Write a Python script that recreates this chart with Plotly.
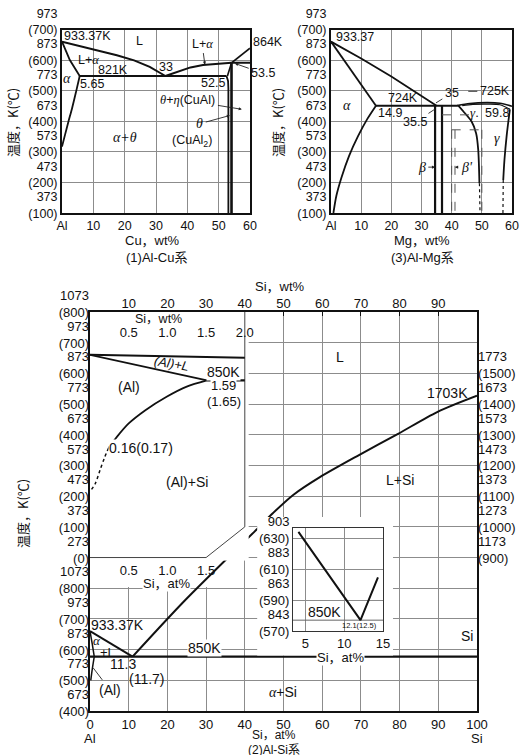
import plotly.graph_objects as go

W, H = 529, 755
SANS = "Liberation Sans, Arial, Noto Sans CJK JP, sans-serif"
SERIF = "Liberation Serif, Times New Roman, serif"
CJK = "Noto Sans CJK JP, Liberation Sans, sans-serif"
INK = "#111111"
GRID = "#8c8c8c"

# ================= (1) Al-Cu =================
cu_wt_ticks = [0, 10, 20, 30, 40, 50, 60]
cu_wt_labels = ["Al", "10", "20", "30", "40", "50", "60"]
top_K = [373, 473, 573, 673, 773, 873, 973]
top_C = [100, 200, 300, 400, 500, 600, 700]

cu_liq1_wt = [0, 7, 12, 17.5, 23, 28, 33]
cu_liq1_K = [933.37, 915, 903, 889, 872, 851, 821]
cu_liq2_wt = [33, 37, 41, 45, 50, 54.1]
cu_liq2_K = [821, 836, 849, 857, 862, 864]
cu_liq3_wt = [54.1, 57, 60]
cu_liq3_K = [864, 887, 912]
cu_peri_wt = [54.1, 60]
cu_peri_K = [864, 864]
cu_eut_wt = [5.65, 52.5]
cu_eut_K = [821, 821]
cu_asol_wt = [0, 2.5, 5.65]
cu_asol_K = [933.37, 873, 821]
cu_asolv_wt = [5.65, 4.5, 3.2, 2.0, 1.0, 0]
cu_asolv_K = [821, 770, 715, 670, 630, 590]
cu_thl_wt = [52.5, 53.0, 53.1, 53.1]
cu_thl_K = [821, 805, 780, 373]
cu_thu_wt = [52.8, 54.1]
cu_thu_K = [821, 864]
cu_thr_wt = [54.1, 54.1]
cu_thr_K = [864, 373]

# ================= (3) Al-Mg =================
mg_wt_ticks = [0, 10, 20, 30, 40, 50, 60]
mg_wt_labels = ["Al", "10", "20", "30", "40", "50", "60"]

mg_liq_wt = [0, 10, 20, 30, 35]
mg_liq_K = [933.37, 878, 819, 757, 724]
mg_sol_wt = [0, 7.5, 14.9]
mg_sol_K = [933.37, 826, 724]
mg_solv_wt = [14.9, 12, 9, 6, 3.5, 1.8, 0.8]
mg_solv_K = [724, 680, 625, 560, 490, 430, 373]
mg_eut_wt = [14.9, 42]
mg_eut_K = [724, 724]
mg_b1_wt = [34.5, 34.5]
mg_b2_wt = [36.8, 36.8]
mg_b_K = [724, 373]
mg_gliq_wt = [41.8, 46, 51.7, 56, 60]
mg_gliq_K = [724, 731, 734, 732, 722]
mg_gsol_wt = [43.5, 47, 52, 56, 59.3]
mg_gsol_K = [724, 728, 729, 727, 712]
mg_gl_wt = [42.2, 43.9, 46.6, 48.1, 48.8, 49.2]
mg_gl_K = [724, 705, 672, 634, 580, 470]
mg_gl_dot_wt = [49.2, 49.4]
mg_gl_dot_K = [470, 373]
mg_gr_wt = [59.3, 58.2, 57.5, 57.1]
mg_gr_K = [712, 623, 547, 481]
mg_gr_dot_wt = [57.1, 57.0]
mg_gr_dot_K = [481, 373]
mg_dh1_wt = [36.8, 46.6]
mg_dh1_K = [694, 694]
mg_dh2_wt = [40.0, 50.0]
mg_dh2_K = [645, 645]
mg_dv1_wt = [40.0, 40.0]
mg_dv2_wt = [41.1, 41.1]
mg_dv3_wt = [50.0, 50.0]
mg_dv_K = [645, 373]

# ================= (2) Al-Si =================
si_at_ticks = [0, 10, 20, 30, 40, 50, 60, 70, 80, 90, 100]
si_wt_ticks = [10, 20, 30, 40, 50, 60, 70, 80, 90]
si_grid_K = [673, 773, 873, 973, 1073, 1173, 1273, 1373, 1473, 1573, 1673, 1773, 1873]
si_left_K = [673, 773, 873, 973, 1073]
si_left_C = [400, 500, 600, 700, 800]
si_right_K = [1173, 1273, 1373, 1473, 1573, 1673, 1773]
si_right_C = [900, 1000, 1100, 1200, 1300, 1400, 1500]

si_liqal_at = [0, 11.0]
si_liqal_K = [933.37, 850]
si_liqsi_at = [11.0, 24.5, 43.2, 47.3, 52.5, 59.4, 69.5, 79.6, 89.7, 100]
si_liqsi_K = [850, 1033, 1266, 1318, 1377, 1435, 1507, 1576, 1647, 1700]
si_eut_at = [0, 100]
si_eut_K = [850, 850]
si_alsol_at = [0, 0.6, 1.1]
si_alsol_K = [933.37, 890, 850]
si_alsolv_at = [1.1, 0.6, 0.2]
si_alsolv_K = [850, 810, 773]

# inset 1 : Al-rich corner, Si wt% 0-2.0 (temperatures 273-1073 K)
in1_wt_ticks = [0.5, 1.0, 1.5, 2.0]
in1_wt_labels = ["0.5", "1.0", "1.5", "2.0"]
in1_at_ticks = [0.5, 1.0, 1.5]
in1_at_labels = ["0.5", "1.0", "1.5"]
in1_K = [273, 373, 473, 573, 673, 773, 873, 973, 1073]
in1_C = [0, 100, 200, 300, 400, 500, 600, 700, 800]
in1_liq_wt = [0, 2.0]
in1_liq_K = [933.37, 924]
in1_sol_wt = [0, 1.51]
in1_sol_K = [933.37, 850]
in1_eut_wt = [1.51, 2.0]
in1_eut_K = [850, 850]
in1_solv_wt = [1.51, 1.25, 0.99, 0.72, 0.50, 0.35, 0.24]
in1_solv_K = [850, 830, 797, 754, 710, 667, 630]
in1_solvdot_wt = [0.24, 0.19, 0.13, 0.07, 0.02]
in1_solvdot_K = [630, 600, 558, 515, 495]
in1_frame_wt = [2.0, 2.0, 1.5, 0]
in1_frame_K = [1073, 373, 273, 273]

# inset 2 : eutectic detail, Si at%
in2_at_ticks = [5, 10, 15]
in2_K = [843, 863, 883, 903]
in2_C = [570, 590, 610, 630]
in2_liq_at = [4.1, 12.1, 14.35]
in2_liq_K = [907, 850, 877.6]
in2_eut_at = [3.4, 15.0]
in2_eut_K = [850, 850]

# white masks (main-diagram coordinates) behind the insets' text
maskA_at = [43.2, 78.3, 78.3, 43.2, 43.2]
maskA_K = [854, 854, 1305, 1305, 854]
maskB_at = [1.0, 39.5, 39.5, 1.0, 1.0]
maskB_K = [1077, 1077, 1168, 1168, 1077]


def kc(K, C):
    return [f"{k}<br>({c})" for k, c in zip(K, C)]


def G(s):
    return f"<span style='font-family:Liberation Serif'><i>{s}</i></span>"


traces = []


def line(xs, ys, xa, ya, w=2.0, dash=None, color=INK, shape="linear"):
    traces.append(go.Scatter(x=xs, y=ys, xaxis=xa, yaxis=ya, mode="lines",
                             line=dict(color=color, width=w, dash=dash, shape=shape, smoothing=0.8),
                             hoverinfo="skip", showlegend=False))


def mask(mx, my):
    traces.append(go.Scatter(x=mx, y=my, xaxis="x3", yaxis="y3", mode="lines", fill="toself",
                             fillcolor="white", line=dict(width=0, color="white"),
                             hoverinfo="skip", showlegend=False))


def dummy(xa, ya):
    traces.append(go.Scatter(x=[None], y=[None], xaxis=xa, yaxis=ya, mode="lines",
                             hoverinfo="skip", showlegend=False))


# ---- Al-Cu traces
for xs, ys, w in [(cu_liq1_wt, cu_liq1_K, 2), (cu_liq2_wt, cu_liq2_K, 2), (cu_liq3_wt, cu_liq3_K, 1.8),
                  (cu_peri_wt, cu_peri_K, 2), (cu_eut_wt, cu_eut_K, 2.2), (cu_asol_wt, cu_asol_K, 1.8),
                  (cu_thl_wt, cu_thl_K, 1.8), (cu_thu_wt, cu_thu_K, 1.6), (cu_thr_wt, cu_thr_K, 2.6)]:
    line(xs, ys, "x", "y", w=w)
line(cu_asolv_wt, cu_asolv_K, "x", "y", w=1.8, shape="spline")

# ---- Al-Mg traces
for xs, ys, w in [(mg_liq_wt, mg_liq_K, 1.8), (mg_sol_wt, mg_sol_K, 1.8), (mg_eut_wt, mg_eut_K, 2),
                  (mg_b1_wt, mg_b_K, 2.2), (mg_b2_wt, mg_b_K, 2.2)]:
    line(xs, ys, "x2", "y2", w=w)
line(mg_solv_wt, mg_solv_K, "x2", "y2", w=1.8, shape="spline")
line(mg_gliq_wt, mg_gliq_K, "x2", "y2", w=1.6, shape="spline")
line(mg_gsol_wt, mg_gsol_K, "x2", "y2", w=1.2, shape="spline")
line(mg_gl_wt, mg_gl_K, "x2", "y2", w=1.8, shape="spline")
line(mg_gr_wt, mg_gr_K, "x2", "y2", w=1.8, shape="spline")
line(mg_gl_dot_wt, mg_gl_dot_K, "x2", "y2", w=1.2, dash="dot")
line(mg_gr_dot_wt, mg_gr_dot_K, "x2", "y2", w=1.2, dash="dot")
for xs, ys in [(mg_dh1_wt, mg_dh1_K), (mg_dh2_wt, mg_dh2_K), (mg_dv1_wt, mg_dv_K),
               (mg_dv2_wt, mg_dv_K), (mg_dv3_wt, mg_dv_K)]:
    line(xs, ys, "x2", "y2", w=1, dash="dash", color="#555")

# ---- Al-Si main traces
mask(maskB_at, maskB_K)
line(si_liqal_at, si_liqal_K, "x3", "y3", w=2)
line(si_liqsi_at, si_liqsi_K, "x3", "y3", w=2, shape="spline")
line(si_eut_at, si_eut_K, "x3", "y3", w=2.2)
line(si_alsol_at, si_alsol_K, "x3", "y3", w=1.5, shape="spline")
line(si_alsolv_at, si_alsolv_K, "x3", "y3", w=1.5, shape="spline")
mask(maskA_at, maskA_K)
dummy("x4", "y3")
dummy("x3", "y4")
dummy("x3", "y8")

# ---- inset 1
line(in1_frame_wt, in1_frame_K, "x5", "y5", w=1, color="#444")
line(in1_liq_wt, in1_liq_K, "x5", "y5", w=2)
line(in1_sol_wt, in1_sol_K, "x5", "y5", w=1.8)
line(in1_eut_wt, in1_eut_K, "x5", "y5", w=2.2)
line(in1_solv_wt, in1_solv_K, "x5", "y5", w=1.8, shape="spline")
line(in1_solvdot_wt, in1_solvdot_K, "x5", "y5", w=1.5, dash="dot", shape="spline")
dummy("x6", "y5")

# ---- inset 2
line(in2_eut_at, in2_eut_K, "x7", "y7", w=1, color="#666")
line(in2_liq_at, in2_liq_K, "x7", "y7", w=2)

fig = go.Figure(traces)

# ---------- axes ----------
mx0, mx1 = 90 / W, 477 / W
my0, my1 = 1 - 711 / H, 1 - 312 / H


def main_fx(at):
    return mx0 + at / 100 * (mx1 - mx0)


def main_fy(K):
    return my0 + (K - 673) / 1300 * (my1 - my0)


def frame(size, **kw):
    d = dict(showline=True, mirror=True, linecolor=INK, linewidth=2, ticks="", zeroline=False,
             showgrid=True, gridcolor=GRID, gridwidth=1, automargin=False,
             tickfont=dict(family=SANS, size=size, color=INK))
    d.update(kw)
    return d


def plain(size, **kw):
    d = dict(showline=False, ticks="", zeroline=False, showgrid=False, automargin=False,
             tickfont=dict(family=SANS, size=size, color=INK))
    d.update(kw)
    return d


TS = 12.5
BS = 13
SH_T = -8
SH_B = -8
fig.update_layout(
    width=W, height=H, autosize=False, margin=dict(l=0, r=0, t=0, b=0, pad=0),
    paper_bgcolor="white", plot_bgcolor="white", showlegend=False,
    xaxis=frame(TS, domain=[62 / W, 250 / W], range=[0, 60], anchor="y",
                tickvals=cu_wt_ticks, ticktext=cu_wt_labels),
    yaxis=frame(TS, domain=[1 - 213 / H, 1 - 29.5 / H], range=[373, 973], anchor="x",
                tickvals=top_K, ticktext=kc(top_K, top_C), ticklabelshift=SH_T),
    xaxis2=frame(TS, domain=[331 / W, 512 / W], range=[0, 60], anchor="y2",
                 tickvals=mg_wt_ticks, ticktext=mg_wt_labels),
    yaxis2=frame(TS, domain=[1 - 213 / H, 1 - 29.5 / H], range=[373, 973], anchor="x2",
                 tickvals=top_K, ticktext=kc(top_K, top_C), ticklabelshift=SH_T),
    xaxis3=frame(BS, domain=[mx0, mx1], range=[0, 100], anchor="y3",
                 tickvals=si_at_ticks, ticktext=[str(v) for v in si_at_ticks], linewidth=2.4),
    yaxis3=frame(BS, domain=[my0, my1], range=[673, 1973], anchor="x3",
                 tickvals=si_grid_K, showticklabels=False, linewidth=2.4),
    yaxis8=plain(BS, overlaying="y3", side="left", anchor="x3", range=[673, 1973],
                 tickvals=si_left_K, ticktext=kc(si_left_K, si_left_C), ticklabelshift=SH_B),
    xaxis4=plain(BS, overlaying="x3", side="top", anchor="y3", range=[0, 100],
                 tickvals=si_wt_ticks, ticktext=[str(v) for v in si_wt_ticks],
                 ticks="inside", ticklen=4, tickcolor=INK),
    yaxis4=plain(BS, overlaying="y3", side="right", anchor="x3", range=[673, 1973],
                 tickvals=si_right_K, ticktext=kc(si_right_K, si_right_C), ticklabelshift=SH_B),
    xaxis5=plain(BS, domain=[main_fx(0), main_fx(41)], range=[0, 2.05], side="top", anchor="y5",
                 tickvals=in1_wt_ticks, ticktext=in1_wt_labels, ticklabelposition="inside",
                 ticklabelstandoff=13, ticklabeloverflow="allow"),
    yaxis5=plain(BS, domain=[main_fy(1163), main_fy(1973)], range=[263, 1073], anchor="x5",
                 tickvals=in1_K, ticktext=kc(in1_K, in1_C), ticklabelshift=SH_B),
    xaxis6=plain(BS, overlaying="x5", side="bottom", anchor="y5", range=[0, 2.05],
                 tickvals=in1_at_ticks, ticktext=in1_at_labels),
    xaxis7=frame(BS, domain=[293 / W, 383 / W], range=[3.4, 15.0], anchor="y7",
                 tickvals=in2_at_ticks, linewidth=1, linecolor="#333"),
    yaxis7=frame(BS, domain=[1 - 631 / H, 1 - 528 / H], range=[843, 909.5], anchor="x7",
                 tickvals=in2_K, ticktext=kc(in2_K, in2_C), ticklabelshift=SH_B,
                 linewidth=1, linecolor="#333"),
)

# ---------- text ----------
ann = []


def label(text, x, y, xref, yref, size=12.5, family=SANS, bg=None, angle=0, **kw):
    d = dict(text=text, x=x, y=y, xref=xref, yref=yref, showarrow=False, textangle=angle,
             xanchor="center", yanchor="middle",
             font=dict(family=family, size=size, color=INK))
    if bg:
        d.update(bgcolor=bg, borderpad=0)
    d.update(kw)
    ann.append(d)


def pointer(text, hx, hy, tx, ty, xref, yref, head=2, size=12.5, family=SANS):
    ann.append(dict(text=text, x=hx, y=hy, ax=tx, ay=ty, xref=xref, yref=yref, axref=xref, ayref=yref,
                    showarrow=True, arrowhead=head, arrowsize=0.7, arrowwidth=0.9, arrowcolor="#222",
                    standoff=0, startstandoff=1, font=dict(family=family, size=size, color=INK)))


# Al-Cu
label("933.37K", 8.0, 953, "x", "y")
label("L", 24.6, 937, "x", "y")
label("L+" + G("α"), 8.3, 872, "x", "y")
label("821K", 16.3, 839, "x", "y")
label("33", 33.2, 852, "x", "y")
pointer("L+" + G("α"), 45.6, 858, 44.7, 927, "x", "y")
label(G("α"), 1.6, 814, "x", "y", size=14)
label("5.65", 9.6, 794, "x", "y")
label("52.5", 48.2, 797, "x", "y")
pointer(G("θ") + "+" + G("η") + "(CuAl)", 57.4, 712, 40.2, 741, "x", "y")
pointer(G("θ"), 53.6, 692, 44.0, 665, "x", "y", size=14)
label("(CuAl<sub>2</sub>)", 41.5, 609, "x", "y")
label(G("α+θ"), 20.1, 621, "x", "y", size=14)
label("864K", (268 - 62) / 188, 931, "x domain", "y")
pointer("53.5", 55.2, 862, 64.2, 829.5, "x", "y")

# Al-Mg
label("933.37", 8.0, 949, "x2", "y2")
label(G("α"), 5.2, 724, "x2", "y2", size=14)
label("724K", 24.0, 749, "x2", "y2")
label("14.9", 19.6, 700, "x2", "y2")
pointer("35", 34.8, 733, 40.0, 765, "x2", "y2", head=0)
pointer("35.5", 34.5, 713, 27.8, 669, "x2", "y2", head=0)
label("725K", 54.4, 771, "x2", "y2")
label(G("γ") + ".", 47.6, 702, "x2", "y2", size=13)
label("59.8", 55.0, 700, "x2", "y2")
label(G("γ"), 54.9, 618, "x2", "y2", size=14)
pointer(G("β"), 34.5, 523, 30.1, 523, "x2", "y2", size=14)
pointer(G("β'"), 41.1, 523, 45.0, 523, "x2", "y2", size=14)

# Al-Si main
label("L", 64.6, 1826, "x3", "y3", size=14)
label("1703K", 92.5, 1709, "x3", "y3", size=14)
label("L+Si", 80.1, 1426, "x3", "y3", size=14)
label("Si", 97.4, 917, "x3", "y3", size=14)
label(G("α") + "+Si", 49.9, 735, "x3", "y3", size=14)
label("850K", 29.7, 878, "x3", "y3", size=14, bg="white")
label("933.37K", 7.2, 953, "x3", "y3", size=14)
label(G("α"), 1.9, 904, "x3", "y3", size=13)
label("+L", 4.4, 865, "x3", "y3", size=13)
label("11.3", 8.5, 826, "x3", "y3", size=14)
label("(11.7)", 14.7, 777, "x3", "y3", size=14)
pointer("(Al)", 0.85, 813, 5.2, 741, "x3", "y3", head=0, size=14)

# inset 1
label("Si，wt%", 0.88, 1050, "x5", "y5", size=12.5)
label("<i>(Al)+L</i>", 1.05, 905, "x5", "y5", size=13, angle=10)
label("850K", 1.73, 879, "x5", "y5", size=14, bg="white")
label("1.59", 1.73, 833, "x5", "y5", size=13, bg="white")
label("(1.65)", 1.73, 781, "x5", "y5", size=13, bg="white")
label("(Al)", 0.50, 829, "x5", "y5", size=14, bg="white")
label("0.16(0.17)", 0.66, 629, "x5", "y5", size=14, bg="white")
label("(Al)+Si", 1.25, 520, "x5", "y5", size=14, bg="white")
label("Si，at%", 0.99, 1 - 583 / H, "x5", "paper", size=13, bg="white")

# inset 2
label("850K", 7.5, 855, "x7", "y7", size=14)
label("12.1(12.5)", 12.0, 846.4, "x7", "y7", size=7.5, family=SANS)
label("Si，at%", 9.46, 1 - 657 / H, "x7", "paper", size=13, bg="white")

# axis titles
label("Cu，wt%", 29.0, 1 - 240 / H, "x", "paper", size=13)
label("(1)Al-Cu系", 30.0, 1 - 257 / H, "x", "paper", size=13)
label("Mg，wt%", 30.2, 1 - 240 / H, "x2", "paper", size=13)
label("(3)Al-Mg系", 30.2, 1 - 257 / H, "x2", "paper", size=13)
label("Si，wt%", 49.1, 1 - 286 / H, "x3", "paper", size=13)
label("Al", 0, 1 - 738.5 / H, "x3", "paper", size=13)
label("Si", 100, 1 - 738.5 / H, "x3", "paper", size=13)
label("Si，at%", 47.5, 1 - 735 / H, "x3", "paper", size=12)
label("(2)Al-Si系", 47.5, 1 - 749.5 / H, "x3", "paper", size=12)
for px, py in [(13, 123), (278, 123), (22, 514)]:
    label("温度，K(℃)", px / W, 1 - py / H, "paper", "paper", size=13, family=CJK, angle=-90)

fig.update_layout(annotations=ann)

# leader dash before "725K"
fig.add_shape(type="line", xref="x2", yref="y2", x0=45.5, x1=48.5, y0=771, y1=771,
              line=dict(color="#333", width=1))

fig.write_html("out.html",
               post_script="document.body.style.margin='0';"
                           "document.documentElement.style.overflow='hidden';")
